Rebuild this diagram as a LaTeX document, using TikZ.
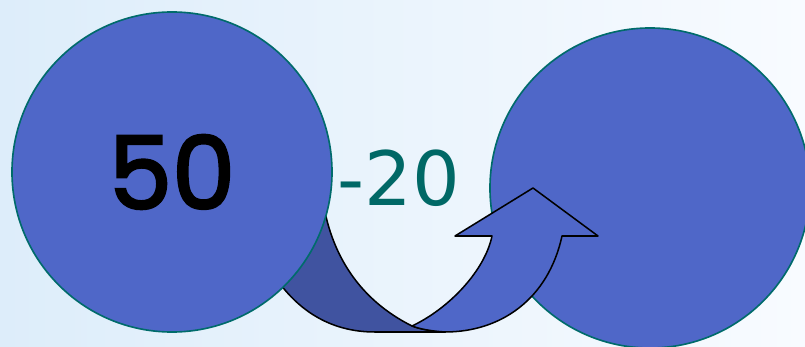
\documentclass[tikz,border=0pt]{standalone}
\usepackage{fontspec}
\newfontfamily\numfont[FakeBold=2.5]{Poppins}
\newfontfamily\difffont{DejaVu Sans}
\usetikzlibrary{positioning}

\definecolor{ballblue}{HTML}{4F67C8}
\definecolor{ballrim}{HTML}{006B6B}
\definecolor{darkband}{HTML}{4053A0}
\definecolor{diffteal}{HTML}{006866}
\definecolor{bgleft}{HTML}{DDEDFA}
\definecolor{bgmid}{HTML}{F0F7FE}
\definecolor{bgright}{HTML}{F8FBFF}

\begin{document}
\begin{tikzpicture}[x=0.03cm, y=-0.03cm,
  ball/.style={circle, draw=ballrim, line width=1.4pt, fill=ballblue, minimum size=9.6cm, inner sep=0pt},
  band/.style={draw=black, line width=1.3pt, line join=round}]
% Background
\clip (0,0) rectangle (805,347);
\shade[left color=bgleft, middle color=bgmid, right color=bgright] (0,0) rectangle (805,347);

% Curved arrow, back part
\path[band, fill=darkband] (262,255) .. controls (290,310) and (330,332) .. (375,332) -- (445,332)
  .. controls (430,331) and (420,329) .. (412,326)
  .. controls (360,300) and (330,255) .. (322,195) -- cycle;

% Circles
\node (start) [ball] at (172,172) {\numfont\fontsize{86}{86}\selectfont 50};
\node (result) [ball] at (650,188) {};

% Curved arrow, front part
\path[band, fill=ballblue] (412,326) .. controls (450,308) and (485,270) .. (492,236)
  -- (455,236) -- (533,188) -- (598,236) -- (562,236)
  .. controls (548,300) and (500,332) .. (445,332)
  .. controls (430,331) and (420,329) .. (412,326) -- cycle;

% Difference
\node (diff) [text=diffteal, inner sep=0pt] at (399,178) {\difffont\fontsize{64}{64}\selectfont -20};
\end{tikzpicture}
\end{document}
